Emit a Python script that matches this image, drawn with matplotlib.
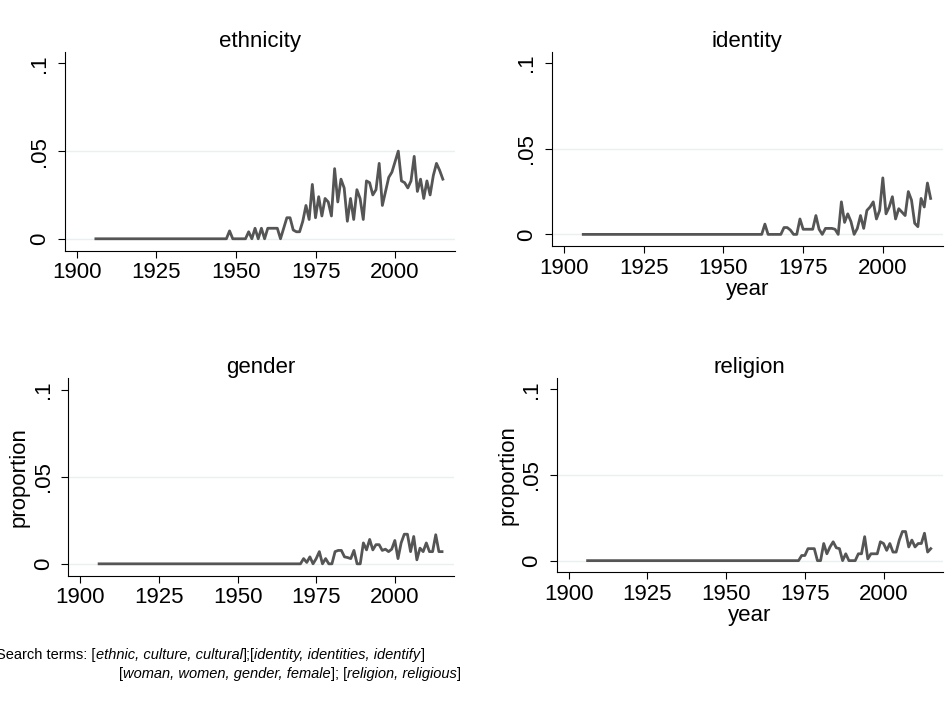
import matplotlib
matplotlib.use('Agg')
import matplotlib.pyplot as plt

# Font: Arial look-alike, like the Stata export
plt.rcParams['font.family'] = ['Liberation Sans', 'DejaVu Sans']
plt.rcParams['font.size'] = 16
plt.rcParams['axes.linewidth'] = 0.8

# Data: share of articles per year using each group of search terms
years = list(range(1906, 2016))

ethnicity = [
    0, 0, 0, 0, 0, 0, 0, 0, 0, 0,
    0, 0, 0, 0, 0, 0, 0, 0, 0, 0,
    0, 0, 0, 0, 0, 0, 0, 0, 0, 0,
    0, 0, 0, 0, 0, 0, 0, 0, 0, 0,
    0, 0, .0045, 0, 0, 0, 0, 0, .004, 0,
    .006, 0, .006, 0, .006, .006, .006, .006, 0, .006,
    .012, .012, .005, .004, .004, .010, .019, .011, .031, .012,
    .024, .013, .023, .021, .013, .040, .021, .034, .029, .010,
    .023, .011, .028, .023, .011, .033, .032, .025, .028, .043,
    .019, .027, .035, .038, .044, .050, .033, .032, .029, .033,
    .047, .027, .034, .023, .033, .025, .036, .043, .039, .034,
]

identity = [
    0, 0, 0, 0, 0, 0, 0, 0, 0, 0,
    0, 0, 0, 0, 0, 0, 0, 0, 0, 0,
    0, 0, 0, 0, 0, 0, 0, 0, 0, 0,
    0, 0, 0, 0, 0, 0, 0, 0, 0, 0,
    0, 0, 0, 0, 0, 0, 0, 0, 0, 0,
    0, 0, 0, 0, 0, 0, 0, .006, 0, 0,
    0, 0, 0, .004, .004, .0025, 0, 0, .009, .003,
    .003, .003, .003, .011, .003, 0, .0035, .0035, .0035, .003,
    0, .019, .007, .012, .0075, 0, .0035, .011, .0035, .014,
    .016, .019, .009, .014, .033, .012, .016, .022, .009, .015,
    .013, .011, .025, .020, .0065, .0045, .021, .016, .030, .021,
]

gender = [
    0, 0, 0, 0, 0, 0, 0, 0, 0, 0,
    0, 0, 0, 0, 0, 0, 0, 0, 0, 0,
    0, 0, 0, 0, 0, 0, 0, 0, 0, 0,
    0, 0, 0, 0, 0, 0, 0, 0, 0, 0,
    0, 0, 0, 0, 0, 0, 0, 0, 0, 0,
    0, 0, 0, 0, 0, 0, 0, 0, 0, 0,
    0, 0, 0, 0, 0, .003, .0008, .004, 0, .003,
    .007, 0, .003, 0, 0, .007, .0077, .0077, .004, .0036,
    .003, .0077, 0, 0, .012, .008, .014, .008, .011, .011,
    .0077, .0084, .007, .0084, .0134, .003, .012, .017, .017, .007,
    .0157, .0023, .009, .007, .012, .007, .007, .0167, .007, .007,
]

religion = [
    0, 0, 0, 0, 0, 0, 0, 0, 0, 0,
    0, 0, 0, 0, 0, 0, 0, 0, 0, 0,
    0, 0, 0, 0, 0, 0, 0, 0, 0, 0,
    0, 0, 0, 0, 0, 0, 0, 0, 0, 0,
    0, 0, 0, 0, 0, 0, 0, 0, 0, 0,
    0, 0, 0, 0, 0, 0, 0, 0, 0, 0,
    0, 0, 0, 0, 0, 0, 0, 0, .003, .003,
    .007, .007, .007, 0, 0, .010, .004, .008, .011, .0075,
    .007, 0, .004, 0, 0, 0, .004, .004, .014, .001,
    .004, .004, .004, .011, .010, .006, .010, .005, .005, .012,
    .017, .017, .008, .012, .008, .010, .010, .016, .005, .007,
]

titles = ['ethnicity', 'identity', 'gender', 'religion']
series = [ethnicity, identity, gender, religion]
xticks = [1900, 1925, 1950, 1975, 2000]
yticks = [0, 0.05, 0.1]
ytick_labels = ['0', '.05', '.1']

# axes boxes in figure fractions (left, bottom, width, height)
boxes = [
    [0.0683, 0.6459, 0.4121, 0.2806],
    [0.5829, 0.6525, 0.4126, 0.2740],
    [0.0721, 0.1869, 0.4073, 0.2788],
    [0.5879, 0.1917, 0.4076, 0.2740],
]
show_year = [False, True, False, True]
show_prop = [False, False, True, True]

line_color = '#555555'
grid_color = '#e8f0f1'

fig = plt.figure(figsize=(9.47, 7.08), dpi=100)

axes = []
for i in range(4):
    ax = fig.add_axes(boxes[i])
    axes.append(ax)
    for g in [0, 0.05]:
        ax.axhline(g, color=grid_color, lw=1.0, zorder=0)
    ax.plot(years, series[i], color=line_color, lw=2.0, zorder=2)
    ax.set_xlim(1896.2, 2018.8)
    ax.set_ylim(-0.0068, 0.1065)
    ax.set_xticks(xticks)
    ax.set_yticks(yticks)
    ax.set_yticklabels(ytick_labels, rotation=90, va='center')
    ax.spines['top'].set_visible(False)
    ax.spines['right'].set_visible(False)
    ax.tick_params(axis='both', direction='out', length=5, width=0.8, labelsize=16)
    ax.tick_params(axis='x', pad=3.3)
    ax.tick_params(axis='y', pad=5.5)
    ax.set_title(titles[i], fontsize=16, pad=3.6)
    if show_year[i]:
        ax.set_xlabel('year', fontsize=16, labelpad=0.5)
    if show_prop[i]:
        ax.set_ylabel('proportion', fontsize=16, labelpad=2)

# caption with italic search terms, built piece by piece
def caption_line(parts, x, y):
    t = fig.text(x, y, parts[0][0], fontsize=10.5, style=parts[0][1], va='bottom', ha='left')
    for s, st in parts[1:]:
        t = axes[0].annotate(s, xy=(1, 0), xycoords=t, va='bottom', ha='left',
                             fontsize=10.5, style=st, annotation_clip=False)

caption_line([('Search terms: [', 'normal'),
              ('ethnic, culture, cultural', 'italic'),
              ('];[', 'normal'),
              ('identity, identities, identify', 'italic'),
              (']', 'normal')], -0.004, 1 - 662 / 708)
caption_line([('[', 'normal'),
              ('woman, women, gender, female', 'italic'),
              ('];\u00a0[', 'normal'),
              ('religion, religious', 'italic'),
              (']', 'normal')], 119 / 947, 1 - 681 / 708)

plt.savefig('out.png', dpi=100)
